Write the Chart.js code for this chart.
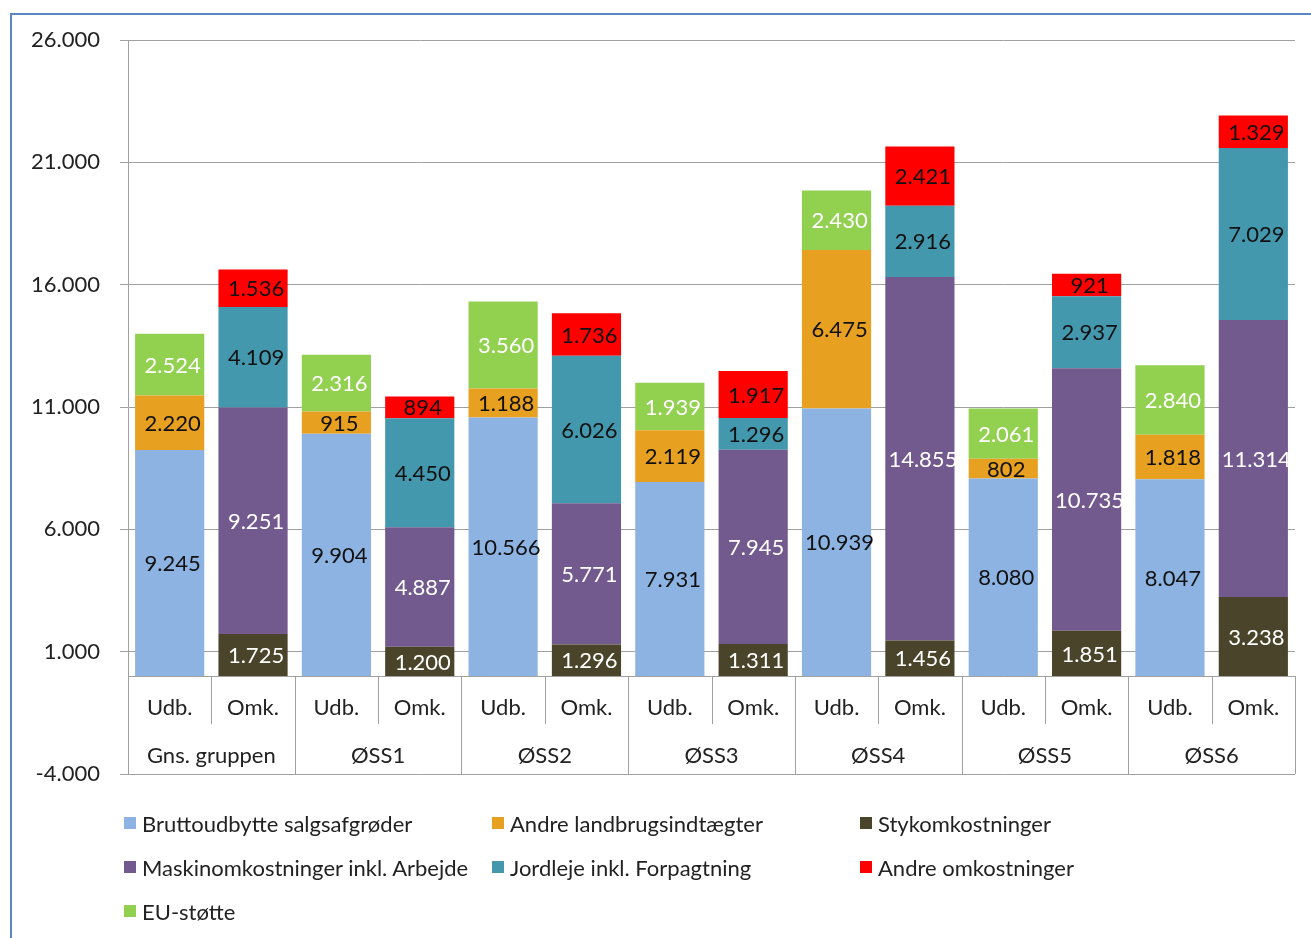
<!DOCTYPE html>
<html>
<head>
<meta charset="utf-8">
<script src="https://cdn.jsdelivr.net/npm/chart.js@4/dist/chart.umd.min.js"></script>
<style>
  html, body { margin: 0; padding: 0; background: #fff; }
  body { width: 1311px; height: 938px; position: relative; overflow: hidden; font-family: Lato, "Open Sans", sans-serif; }
  #frame { position: absolute; left: 10px; top: 13px; width: 1330px; height: 960px; border: 2px solid #5a86c4; box-sizing: border-box; }
  #wrap { position: absolute; left: 0; top: 0; width: 1311px; height: 938px; }
  #legend { position: absolute; left: 124px; top: 810px; width: 1100px; display: grid; grid-template-columns: 368px 368px 368px; row-gap: 18px; }
  .item { display: flex; align-items: center; font-size: 22px; color: #222; height: 26px; white-space: nowrap; }
  .box { width: 12px; height: 12px; margin-right: 6px; flex: none; }
</style>
</head>
<body>
<div id="frame"></div>
<div id="wrap"><canvas id="chart" width="1311" height="938"></canvas></div>
<div id="legend"></div>
<script>
const groups = ['Gns. gruppen', 'ØSS1', 'ØSS2', 'ØSS3', 'ØSS4', 'ØSS5', 'ØSS6'];
const barTypes = ['Udb.', 'Omk.'];
const yTicks = [-4000, 1000, 6000, 11000, 16000, 21000, 26000];

// Udb. bars (income)
const bruttoudbytte = [9245, 9904, 10566, 7931, 10939, 8080, 8047];
const andreIndtaegter = [2220, 915, 1188, 2119, 6475, 802, 1818];
const euStotte = [2524, 2316, 3560, 1939, 2430, 2061, 2840];

// Omk. bars (costs)
const stykomk = [1725, 1200, 1296, 1311, 1456, 1851, 3238];
const maskinomk = [9251, 4887, 5771, 7945, 14855, 10735, 11314];
const jordleje = [4109, 4450, 6026, 1296, 2916, 2937, 7029];
const andreOmk = [1536, 894, 1736, 1917, 2421, 921, 1329];

const FONT = 'Lato, "Open Sans", sans-serif';
const fmt = v => Math.round(v).toString().replace(/\B(?=(\d{3})+(?!\d))/g, '.');

// spread group values onto the Udb./Omk. slots
function toSlots(values, slot) {
    const out = [];
    values.forEach(v => {
        out.push(slot === 0 ? v : null);
        out.push(slot === 1 ? v : null);
    });
    return out;
}

const labels = [];
groups.forEach(() => barTypes.forEach(t => labels.push(t)));

const series = [
    { label: 'Bruttoudbytte salgsafgrøder', values: bruttoudbytte, slot: 0, color: '#8db3e2', text: '#111' },
    { label: 'Andre landbrugsindtægter', values: andreIndtaegter, slot: 0, color: '#e8a020', text: '#111' },
    { label: 'Stykomkostninger', values: stykomk, slot: 1, color: '#4a452a', text: '#fff' },
    { label: 'Maskinomkostninger inkl. Arbejde', values: maskinomk, slot: 1, color: '#725a8e', text: '#fff' },
    { label: 'Jordleje inkl. Forpagtning', values: jordleje, slot: 1, color: '#4398ae', text: '#111' },
    { label: 'Andre omkostninger', values: andreOmk, slot: 1, color: '#ff0000', text: '#111' },
    { label: 'EU-støtte', values: euStotte, slot: 0, color: '#92d050', text: '#fff' }
];

const datasets = series.map(s => ({
    label: s.label,
    data: toSlots(s.values, s.slot),
    backgroundColor: s.color,
    textColor: s.text,
    borderWidth: 0,
    categoryPercentage: 1,
    barPercentage: 0.83
}));

// value labels in the middle of each segment
const valueLabels = {
    id: 'valueLabels',
    afterDatasetsDraw(chart) {
        const ctx = chart.ctx;
        ctx.save();
        ctx.font = '22px ' + FONT;
        ctx.textAlign = 'center';
        ctx.textBaseline = 'middle';
        chart.data.datasets.forEach((ds, di) => {
            const meta = chart.getDatasetMeta(di);
            meta.data.forEach((bar, i) => {
                const v = ds.data[i];
                if (v == null) return;
                ctx.fillStyle = ds.textColor;
                ctx.fillText(fmt(v), bar.x + 3, (bar.y + bar.base) / 2 + 1);
            });
        });
        ctx.restore();
    }
};

// category table under the zero line
const categoryTable = {
    id: 'categoryTable',
    afterDatasetsDraw(chart) {
        const ctx = chart.ctx;
        const x = chart.scales.x;
        const y = chart.scales.y;
        const area = chart.chartArea;
        const y0 = y.getPixelForValue(0);
        const yb = area.bottom;
        const half = (x.getPixelForValue(1) - x.getPixelForValue(0)) / 2;
        ctx.save();
        ctx.strokeStyle = '#a0a0a0';
        ctx.lineWidth = 1;
        ctx.beginPath();
        ctx.moveTo(area.left, Math.round(y0) + 0.5);
        ctx.lineTo(area.right, Math.round(y0) + 0.5);
        for (let i = 0; i < labels.length; i++) {
            const right = Math.round(x.getPixelForValue(i) + half) + 0.5;
            const full = i % 2 === 1;
            ctx.moveTo(right, y0);
            ctx.lineTo(right, full ? yb : y0 + 48);
        }
        ctx.stroke();
        ctx.fillStyle = '#222';
        ctx.font = '22px ' + FONT;
        ctx.textAlign = 'center';
        ctx.textBaseline = 'middle';
        labels.forEach((t, i) => {
            ctx.fillText(t, x.getPixelForValue(i), y0 + 32);
        });
        groups.forEach((g, gi) => {
            const cx = (x.getPixelForValue(gi * 2) + x.getPixelForValue(gi * 2 + 1)) / 2;
            ctx.fillText(g, cx, y0 + 80);
        });
        ctx.restore();
    }
};

const chart = new Chart(document.getElementById('chart'), {
    type: 'bar',
    data: { labels, datasets },
    options: {
        responsive: false,
        animation: false,
        layout: { padding: { left: 0, top: 40, right: 16, bottom: 164 } },
        plugins: {
            legend: { display: false },
            tooltip: { enabled: false }
        },
        scales: {
            x: {
                stacked: true,
                display: false
            },
            y: {
                stacked: true,
                min: -4000,
                max: 26000,
                afterFit(scale) { scale.width = 128; },
                afterBuildTicks(scale) { scale.ticks = yTicks.map(v => ({ value: v })); },
                border: { display: true, color: '#a0a0a0' },
                grid: { color: '#a0a0a0', tickLength: 8 },
                ticks: {
                    padding: 20,
                    color: '#222',
                    font: { family: FONT, size: 22 },
                    callback: v => (v < 0 ? '-' : '') + fmt(Math.abs(v))
                }
            }
        }
    },
    plugins: [valueLabels, categoryTable]
});

// legend, 3 columns like the original
const legend = document.getElementById('legend');
series.forEach(s => {
    const item = document.createElement('div');
    item.className = 'item';
    item.innerHTML = '<span class="box" style="background:' + s.color + '"></span><span>' + s.label + '</span>';
    legend.appendChild(item);
});
</script>
</body>
</html>
